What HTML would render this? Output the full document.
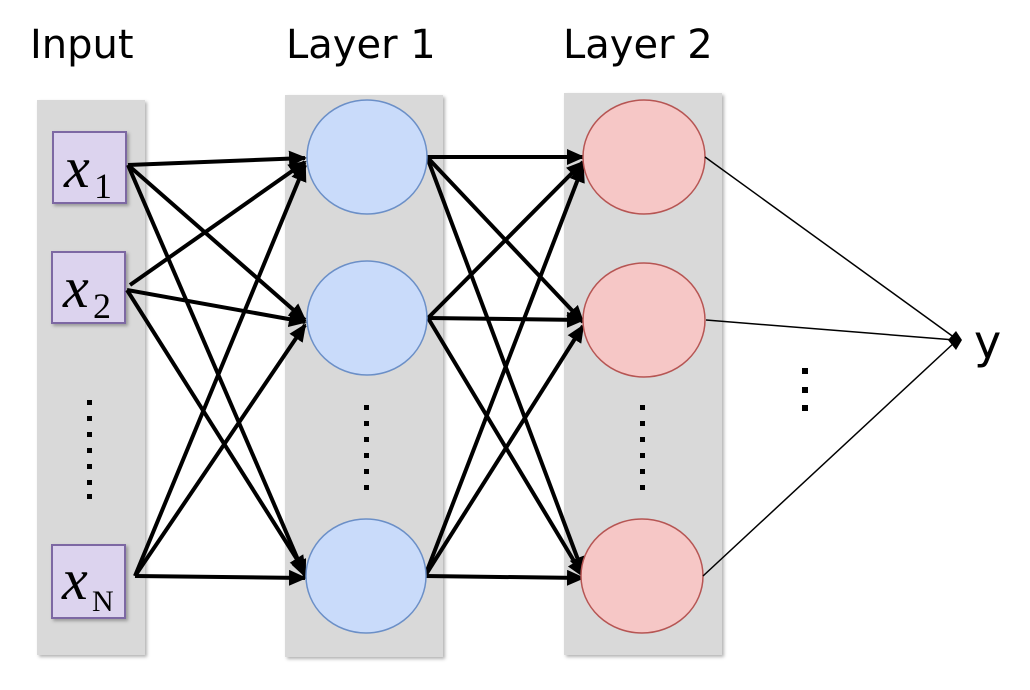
<!DOCTYPE html>
<html><head><meta charset="utf-8"><style>
html,body{margin:0;padding:0;background:#fff;width:1030px;height:690px;overflow:hidden}
</style></head><body>
<svg width="1030" height="690" viewBox="0 0 1030 690" xmlns="http://www.w3.org/2000/svg">
<defs>
<marker id="a" markerWidth="4.5" markerHeight="4" refX="4" refY="2" orient="auto" markerUnits="strokeWidth">
<path d="M0,0 L4.5,2 L0,4 Z" fill="#000"/></marker>
<filter id="s"><feDropShadow dx="2" dy="2" stdDeviation="1.5" flood-opacity="0.3"/></filter>
</defs>
<rect x="37" y="100" width="108" height="555" fill="#d9d9d9" filter="url(#s)"/>
<rect x="285" y="95" width="158" height="562" fill="#d9d9d9" filter="url(#s)"/>
<rect x="564" y="93" width="158" height="562" fill="#d9d9d9" filter="url(#s)"/>
<g font-family="DejaVu Sans, Liberation Sans, sans-serif" font-size="40" fill="#000">
<text x="30" y="58">Input</text>
<text x="286" y="58">Layer 1</text>
<text x="563" y="58">Layer 2</text>
<text x="974" y="358" font-size="46">y</text>
</g>
<g fill="#dcd3ee" stroke="#7d67a3" stroke-width="2" filter="url(#s)">
<rect x="53" y="132" width="73" height="71"/>
<rect x="52" y="252" width="73" height="71"/>
<rect x="52" y="545" width="73" height="73"/>
</g>
<g font-family="Liberation Serif, serif" fill="#000">
<text x="64" y="187" font-size="58" font-style="italic">x</text><text x="94" y="198" font-size="36">1</text>
<text x="63" y="307" font-size="58" font-style="italic">x</text><text x="93" y="318" font-size="36">2</text>
<text x="62" y="599" font-size="58" font-style="italic">x</text><text x="92" y="611" font-size="30">N</text>
</g>
<g fill="#000">
<rect x="87" y="400" width="5" height="5"/><rect x="87" y="416" width="5" height="5"/><rect x="87" y="432" width="5" height="5"/><rect x="87" y="448" width="5" height="5"/><rect x="87" y="464" width="5" height="5"/><rect x="87" y="480" width="5" height="5"/><rect x="87" y="494" width="5" height="5"/>
<rect x="364" y="405" width="5" height="5"/><rect x="364" y="421" width="5" height="5"/><rect x="364" y="437" width="5" height="5"/><rect x="364" y="453" width="5" height="5"/><rect x="364" y="469" width="5" height="5"/><rect x="364" y="485" width="5" height="5"/>
<rect x="640" y="405" width="5" height="5"/><rect x="640" y="421" width="5" height="5"/><rect x="640" y="437" width="5" height="5"/><rect x="640" y="453" width="5" height="5"/><rect x="640" y="469" width="5" height="5"/><rect x="640" y="485" width="5" height="5"/>
<rect x="802" y="368" width="6" height="6"/><rect x="802" y="387" width="6" height="6"/><rect x="802" y="405" width="6" height="6"/>
</g>
<g stroke="#000" stroke-width="4" marker-end="url(#a)" fill="none">
<line x1="128" y1="165" x2="305" y2="158"/>
<line x1="128" y1="165" x2="305" y2="320"/>
<line x1="128" y1="165" x2="305" y2="576"/>
<line x1="130" y1="285" x2="305" y2="162"/>
<line x1="127" y1="290" x2="305" y2="322"/>
<line x1="127" y1="290" x2="305" y2="572"/>
<line x1="135" y1="576" x2="305" y2="165"/>
<line x1="135" y1="576" x2="305" y2="325"/>
<line x1="135" y1="576" x2="305" y2="578"/>
<line x1="427" y1="157" x2="583" y2="157"/>
<line x1="427" y1="157" x2="583" y2="322"/>
<line x1="427" y1="157" x2="583" y2="573"/>
<line x1="428" y1="318" x2="583" y2="162"/>
<line x1="428" y1="318" x2="583" y2="320"/>
<line x1="428" y1="318" x2="583" y2="576"/>
<line x1="425" y1="576" x2="583" y2="166"/>
<line x1="425" y1="576" x2="583" y2="326"/>
<line x1="425" y1="576" x2="583" y2="578"/>
</g>
<g fill="#c9dbfa" stroke="#6b8fc7" stroke-width="1.5">
<ellipse cx="367" cy="157" rx="60" ry="57"/>
<ellipse cx="367" cy="318" rx="60" ry="57"/>
<ellipse cx="366" cy="576" rx="60" ry="57"/>
</g>
<g fill="#f6c7c6" stroke="#b65553" stroke-width="1.5">
<ellipse cx="644" cy="157" rx="61" ry="57"/>
<ellipse cx="644" cy="320" rx="61" ry="57"/>
<ellipse cx="642" cy="576" rx="61" ry="57"/>
</g>
<g stroke="#000" stroke-width="1.5">
<line x1="705" y1="157" x2="955" y2="338"/>
<line x1="706" y1="320" x2="955" y2="340"/>
<line x1="703" y1="576" x2="955" y2="342"/>
</g>
<path d="M948,340 L956,331 L962,340 L956,350 Z" fill="#000"/>
</svg>
</body></html>
